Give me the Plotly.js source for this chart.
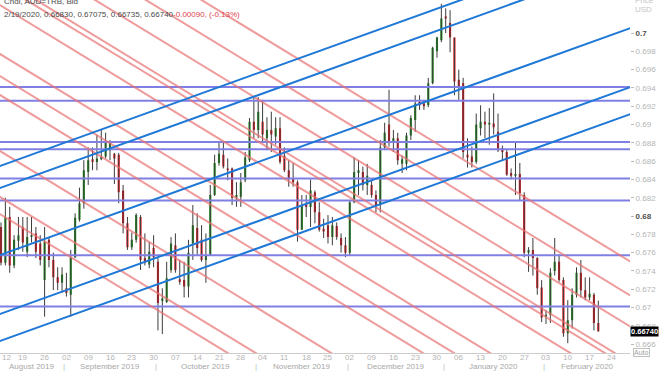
<!DOCTYPE html>
<html>
<head>
<meta charset="utf-8">
<script src="https://cdn.plot.ly/plotly-3.0.1.min.js"></script>
<style>
  html, body { margin: 0; padding: 0; background: #fff; }
  #chart { width: 660px; height: 371px; }
</style>
</head>
<body>
<div id="chart"></div>
<script>
// AUD=TRB daily bid candles, 12 Aug 2019 - 19 Feb 2020
const firstSession = '2019-08-12';

const open = [
  0.6788,0.6749,0.6799,0.6746,0.6773,0.6788,0.6761,0.6777,0.6781,0.6770,
  0.6730,0.6774,0.6752,0.6733,0.6727,0.6721,0.6714,0.6755,0.6796,0.6814,
  0.6848,0.6862,0.6859,0.6862,0.6865,0.6872,0.6868,0.6867,0.6828,0.6792,
  0.6766,0.6774,0.6799,0.6754,0.6747,0.6765,0.6750,0.6707,0.6706,0.6741,
  0.6768,0.6731,0.6730,0.6723,0.6770,0.6787,0.6774,0.6752,0.6757,0.6823,
  0.6858,0.6867,0.6852,0.6852,0.6820,0.6821,0.6839,0.6861,0.6903,0.6894,
  0.6903,0.6885,0.6894,0.6887,0.6896,0.6866,0.6850,0.6841,0.6837,0.6785,
  0.6814,0.6810,0.6826,0.6804,0.6786,0.6790,0.6777,0.6789,0.6776,0.6768,
  0.6760,0.6815,0.6847,0.6848,0.6834,0.6834,0.6823,0.6812,0.6875,0.6900,
  0.6880,0.6885,0.6857,0.6857,0.6888,0.6905,0.6925,0.6923,0.6921,0.6945,
  0.6980,0.6992,0.7018,0.7011,0.6995,0.6949,0.6945,0.6867,0.6865,0.6859,
  0.6896,0.6903,0.6900,0.6901,0.6892,0.6874,0.6870,0.6847,0.6844,0.6846,
  0.6823,0.6760,0.6763,0.6754,0.6722,0.6690,0.6692,0.6740,0.6750,0.6730,
  0.6672,0.6686,0.6714,0.6738,0.6719,0.6711,0.6714,0.66830
];
const high = [
  0.6793,0.6820,0.6810,0.6779,0.6799,0.6799,0.6799,0.6799,0.6788,0.6779,
  0.6788,0.6777,0.6760,0.6744,0.6744,0.6738,0.6763,0.6803,0.6831,0.6861,
  0.6875,0.6875,0.6889,0.6894,0.6891,0.6883,0.6869,0.6869,0.6834,0.6799,
  0.6782,0.6803,0.6801,0.6781,0.6772,0.6779,0.6754,0.6721,0.6750,0.6777,
  0.6781,0.6752,0.6750,0.6774,0.6812,0.6803,0.6790,0.6781,0.6834,0.6867,
  0.6880,0.6880,0.6863,0.6853,0.6837,0.6847,0.6870,0.6907,0.6929,0.6930,
  0.6927,0.6908,0.6914,0.6908,0.6908,0.6875,0.6861,0.6858,0.6839,0.6823,
  0.6823,0.6840,0.6828,0.6815,0.6797,0.6801,0.6799,0.6793,0.6781,0.6777,
  0.6817,0.6864,0.6861,0.6854,0.6857,0.6839,0.6828,0.6883,0.6902,0.6938,
  0.6894,0.6891,0.6866,0.6891,0.6910,0.6932,0.6932,0.6927,0.6951,0.6985,
  0.6996,0.7032,0.7027,0.7025,0.6995,0.6960,0.6951,0.6885,0.6876,0.6912,
  0.6921,0.6914,0.6918,0.6934,0.6912,0.6877,0.6872,0.6852,0.6880,0.6858,
  0.6826,0.6766,0.6776,0.6755,0.6730,0.6697,0.6743,0.6776,0.6758,0.6733,
  0.6708,0.6721,0.6744,0.6752,0.6733,0.6733,0.6716,0.67075
];
const low = [
  0.6746,0.6746,0.6738,0.6743,0.6763,0.6761,0.6755,0.6771,0.6754,0.6746,
  0.6690,0.6744,0.6719,0.6719,0.6716,0.6712,0.6690,0.6754,0.6794,0.6808,
  0.6834,0.6850,0.6850,0.6861,0.6863,0.6861,0.6835,0.6814,0.6781,0.6763,
  0.6763,0.6771,0.6741,0.6746,0.6743,0.6744,0.6675,0.6671,0.6705,0.6738,
  0.6738,0.6725,0.6711,0.6711,0.6752,0.6757,0.6750,0.6727,0.6757,0.6822,
  0.6855,0.6852,0.6839,0.6812,0.6810,0.6810,0.6837,0.6859,0.6885,0.6885,
  0.6880,0.6872,0.6870,0.6878,0.6857,0.6848,0.6832,0.6832,0.6772,0.6785,
  0.6799,0.6788,0.6792,0.6783,0.6776,0.6770,0.6768,0.6774,0.6760,0.6755,
  0.6757,0.6814,0.6823,0.6828,0.6823,0.6820,0.6804,0.6804,0.6872,0.6876,
  0.6870,0.6856,0.6847,0.6850,0.6883,0.6892,0.6916,0.6916,0.6919,0.6944,
  0.6973,0.6990,0.7000,0.6979,0.6932,0.6927,0.6863,0.6853,0.6853,0.6857,
  0.6888,0.6885,0.6878,0.6889,0.6870,0.6861,0.6844,0.6840,0.6823,0.6817,
  0.6755,0.6739,0.6735,0.6714,0.6684,0.6682,0.6683,0.6735,0.6728,0.6668,
  0.6661,0.6677,0.6711,0.6711,0.6708,0.6708,0.6675,0.66735
];
const close = [
  0.6749,0.6799,0.6746,0.6774,0.6779,0.6771,0.6777,0.6779,0.6761,0.6752,
  0.6772,0.6752,0.6733,0.6727,0.6736,0.6716,0.6755,0.6798,0.6814,0.6850,
  0.6861,0.6859,0.6863,0.6865,0.6880,0.6880,0.6863,0.6826,0.6792,0.6766,
  0.6774,0.6801,0.6752,0.6749,0.6761,0.6755,0.6705,0.6710,0.6732,0.6770,
  0.6741,0.6728,0.6723,0.6760,0.6790,0.6765,0.6752,0.6757,0.6823,0.6858,
  0.6868,0.6854,0.6850,0.6820,0.6823,0.6837,0.6864,0.6903,0.6894,0.6914,
  0.6889,0.6894,0.6889,0.6896,0.6859,0.6850,0.6841,0.6837,0.6785,0.6812,
  0.6810,0.6828,0.6804,0.6785,0.6783,0.6777,0.6790,0.6777,0.6768,0.6760,
  0.6815,0.6848,0.6850,0.6834,0.6844,0.6823,0.6812,0.6875,0.6891,0.6880,
  0.6885,0.6861,0.6862,0.6888,0.6907,0.6923,0.6921,0.6920,0.6945,0.6984,
  0.6995,0.7016,0.7016,0.6995,0.6947,0.6940,0.6870,0.6864,0.6859,0.6900,
  0.6903,0.6900,0.6902,0.6897,0.6872,0.6870,0.6845,0.6844,0.6846,0.6825,
  0.6760,0.6763,0.6754,0.6721,0.6689,0.6692,0.6738,0.6750,0.6730,0.6672,
  0.6686,0.6714,0.6738,0.6719,0.6711,0.6715,0.66830,0.66740
];

// Horizontal support / resistance levels
const levels = [0.6941, 0.6926, 0.6881, 0.6873, 0.6841, 0.6817, 0.6757, 0.6701];

// Rising channel lines and falling trend lines, each drawn between two anchor sessions
const lineFrom = '2019-08-08';
const lineTo = '2020-03-03';
const riseFromVal = [0.68517, 0.68276, 0.67544, 0.66899, 0.66604];
const riseToVal   = [0.71055, 0.70814, 0.70082, 0.69437, 0.69142];
const fallFromVal = [0.71756, 0.71385, 0.71046, 0.70653, 0.70587, 0.70357,
                     0.69822, 0.69581, 0.69374, 0.68762, 0.68259, 0.68073];
const fallToVal   = [0.67454, 0.67083, 0.66744, 0.66351, 0.66285, 0.66055,
                     0.65520, 0.65279, 0.65072, 0.64460, 0.63957, 0.63771];

// Price axis
const priceTicks = [0.666, 0.668, 0.670, 0.672, 0.674, 0.676, 0.678, 0.680, 0.682,
                    0.684, 0.686, 0.688, 0.690, 0.692, 0.694, 0.696, 0.698, 0.700];
const boldTicks = [0.680, 0.700];
const monthNames = ['January', 'February', 'March', 'April', 'May', 'June', 'July',
                    'August', 'September', 'October', 'November', 'December'];

// Trading-day calendar (weekdays only), used as the x scale
function sessions(from, count) {
  const out = [];
  const d = new Date(from + 'T00:00:00Z');
  while (out.length < count) {
    const wd = d.getUTCDay();
    if (wd !== 0 && wd !== 6) out.push(new Date(d.getTime()));
    d.setUTCDate(d.getUTCDate() + 1);
  }
  return out;
}
const cal = sessions(lineFrom, 160);
const dayKey = d => d.toISOString().slice(0, 10);
const sessionIndex = s => cal.findIndex(d => dayKey(d) === s);

const first = sessionIndex(firstSession);
const xs = open.map((_, k) => first + k);
const xMin = first - 0.23;
const xMax = first + 144.27;
const plotW = 630, plotH = 353;
const idxToPx = i => (i - xMin) / (xMax - xMin) * plotW;
const pxToPaperY = px => (plotH - px) / plotH;

const annotations = [];

// Weekly day labels on Mondays (kept inside the plot at the left edge)
cal.forEach((d, i) => {
  if (d.getUTCDay() !== 1 || i < xMin || i > xMax) return;
  const nearEdge = idxToPx(i) < 5;
  annotations.push({
    x: nearEdge ? xMin : i, xref: 'x', y: pxToPaperY(357.5), yref: 'paper',
    text: String(d.getUTCDate()).padStart(2, '0'), showarrow: false,
    font: {size: 8, color: '#b4b4b4'}, xanchor: nearEdge ? 'left' : 'center', yanchor: 'middle'
  });
});

// Month bands below the day labels
const months = [];
cal.forEach((d, i) => {
  if (i < first || i > xMax) return;
  const key = d.getUTCFullYear() * 12 + d.getUTCMonth();
  const m = months[months.length - 1];
  if (!m || m.key !== key) months.push({key, start: i, end: i, y: d.getUTCFullYear(), mo: d.getUTCMonth()});
  else m.end = i;
});
months.forEach((m, k) => {
  annotations.push({
    x: (m.start + m.end) / 2, xref: 'x', y: pxToPaperY(366.5), yref: 'paper',
    text: monthNames[m.mo] + ' ' + m.y, showarrow: false,
    font: {size: 8, color: '#a8a8a8'}, xanchor: 'center', yanchor: 'middle'
  });
  if (k > 0) {
    annotations.push({
      x: m.start - 0.5, xref: 'x', y: pxToPaperY(366.5), yref: 'paper',
      text: '|', showarrow: false, font: {size: 8, color: '#bdbdbd'},
      xanchor: 'center', yanchor: 'middle'
    });
  }
});

// Header with the last session
const last = close.length - 1;
const lastDay = cal[xs[last]];
const dayText = (lastDay.getUTCMonth() + 1) + '/' + lastDay.getUTCDate() + '/' + lastDay.getUTCFullYear();
const chg = close[last] - close[last - 1];
const pct = chg / close[last - 1] * 100;
annotations.push({
  x: 0.003, xref: 'paper', y: pxToPaperY(2), yref: 'paper', xanchor: 'left', yanchor: 'middle',
  text: 'Cndl, AUD=TRB, Bid', showarrow: false, font: {size: 8, color: '#4a4a4a'}
});
annotations.push({
  x: 0.003, xref: 'paper', y: pxToPaperY(15), yref: 'paper', xanchor: 'left', yanchor: 'middle',
  text: dayText + ', ' + open[last].toFixed(5) + ', ' + high[last].toFixed(5) + ', ' +
        low[last].toFixed(5) + ', ' + close[last].toFixed(5) +
        '<span style="color:#e0424a">' + chg.toFixed(5) + ', (' + pct.toFixed(2) + '%)</span>',
  showarrow: false, font: {size: 8, color: '#4a4a4a'}
});
annotations.push({
  x: 1.005, xref: 'paper', y: pxToPaperY(0.5), yref: 'paper', xanchor: 'left', yanchor: 'middle',
  text: 'Price', showarrow: false, font: {size: 8, color: '#c4c4c4'}
});
annotations.push({
  x: 1.005, xref: 'paper', y: pxToPaperY(10), yref: 'paper', xanchor: 'left', yanchor: 'middle',
  text: 'USD', showarrow: false, font: {size: 8, color: '#c4c4c4'}
});
// Last price marker
annotations.push({
  x: 1, xref: 'paper', y: close[last], yref: 'y', xanchor: 'left', yanchor: 'middle',
  text: '<b>' + close[last].toFixed(5) + '</b>', showarrow: false,
  font: {size: 7.5, color: '#ffffff'}, bgcolor: '#000000', borderpad: 0
});
annotations.push({
  x: 1.005, xref: 'paper', y: pxToPaperY(352), yref: 'paper', xanchor: 'left', yanchor: 'middle',
  text: 'Auto', showarrow: false, font: {size: 7, color: '#a0a0a0'},
  bordercolor: '#c0c0c0', borderwidth: 1, borderpad: 0
});

// Traces
const wickX = [], wickY = [];
xs.forEach((x, k) => { wickX.push(x, x, null); wickY.push(low[k], high[k], null); });

const traces = [];
traces.push({
  type: 'scatter', mode: 'lines', x: wickX, y: wickY,
  line: {color: '#3c3c3c', width: 1}, hoverinfo: 'skip'
});
traces.push({
  type: 'candlestick', x: xs, open, high, low, close,
  increasing: {line: {color: '#1b8c1b', width: 0}, fillcolor: '#1b8c1b'},
  decreasing: {line: {color: '#e3161e', width: 0}, fillcolor: '#e3161e'},
  whiskerwidth: 0, hoverinfo: 'skip'
});

const xFrom = sessionIndex(lineFrom), xTo = sessionIndex(lineTo);
levels.forEach(v => traces.push({
  type: 'scatter', mode: 'lines', x: [xFrom, xTo], y: [v, v],
  line: {color: '#7f7fe4', width: 2}, hoverinfo: 'skip'
}));
fallFromVal.forEach((v, k) => traces.push({
  type: 'scatter', mode: 'lines', x: [xFrom, xTo], y: [v, fallToVal[k]],
  line: {color: 'rgba(234,112,112,0.7)', width: 2}, hoverinfo: 'skip'
}));
riseFromVal.forEach((v, k) => traces.push({
  type: 'scatter', mode: 'lines', x: [xFrom, xTo], y: [v, riseToVal[k]],
  line: {color: '#1f78d6', width: 2}, hoverinfo: 'skip'
}));

const tickLabel = v => {
  const s = String(+v.toFixed(3));
  return boldTicks.some(b => Math.abs(b - v) < 1e-9)
    ? '<span style="color:#505050"><b>' + s + '</b></span>' : s;
};

const layout = {
  width: 660, height: 371,
  margin: {l: 0, r: 30, t: 0, b: 18, pad: 0},
  paper_bgcolor: '#ffffff', plot_bgcolor: '#ffffff',
  showlegend: false, hovermode: false,
  font: {family: '"Liberation Sans", Arial, sans-serif', size: 8, color: '#b4b4b4'},
  boxgap: 0.3,
  xaxis: {
    range: [xMin, xMax], showticklabels: false, ticks: '',
    showgrid: false, zeroline: false, showline: true, linecolor: '#cccccc', linewidth: 1,
    rangeslider: {visible: false}, fixedrange: true
  },
  yaxis: {
    side: 'right', range: [0.66503, 0.70361],
    tickvals: priceTicks, ticktext: priceTicks.map(tickLabel),
    showgrid: false, zeroline: false, showline: false,
    ticks: 'outside', ticklen: 3, tickcolor: '#bbbbbb',
    tickfont: {size: 8, color: '#b4b4b4'}, fixedrange: true
  },
  annotations
};

Plotly.newPlot('chart', traces, layout, {staticPlot: true, displayModeBar: false});
</script>
</body>
</html>
